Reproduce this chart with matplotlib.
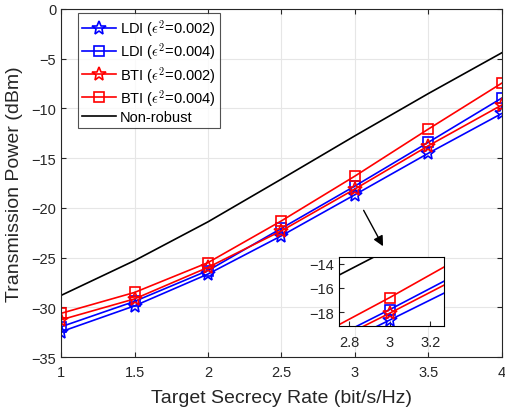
import numpy as np
import matplotlib.pyplot as plt

plt.rcParams['font.family'] = ['Liberation Sans', 'DejaVu Sans']
plt.rcParams['mathtext.fontset'] = 'cm'

# 数据
rate = [1, 1.5, 2, 2.5, 3, 3.5, 4]
ldi_002 = [-32.45, -29.85, -26.65, -22.8, -18.67, -14.5, -10.5]
ldi_004 = [-31.95, -29.4, -26.3, -22.05, -17.8, -13.4, -8.95]
bti_002 = [-31.25, -29.15, -25.98, -22.3, -18.1, -13.75, -9.65]
bti_004 = [-30.6, -28.5, -25.5, -21.3, -16.8, -12.07, -7.45]
non_robust = [-28.8, -25.3, -21.4, -17.1, -12.75, -8.5, -4.4]

labels = [r'LDI ($\epsilon^2$=0.002)', r'LDI ($\epsilon^2$=0.004)',
          r'BTI ($\epsilon^2$=0.002)', r'BTI ($\epsilon^2$=0.004)', 'Non-robust']


def draw(ax, ms_star=10, ms_sq=7):
    ax.plot(rate, ldi_002, color='blue', lw=1.2, marker='*', ms=ms_star, mfc='none', mew=1.2, label=labels[0])
    ax.plot(rate, ldi_004, color='blue', lw=1.2, marker='s', ms=ms_sq, mfc='none', mew=1.2, label=labels[1])
    ax.plot(rate, bti_002, color='red', lw=1.2, marker='*', ms=ms_star, mfc='none', mew=1.2, label=labels[2])
    ax.plot(rate, bti_004, color='red', lw=1.2, marker='s', ms=ms_sq, mfc='none', mew=1.2, label=labels[3])
    ax.plot(rate, non_robust, color='black', lw=1.2, label=labels[4])


fig = plt.figure(figsize=(5.06, 4.14), dpi=100)
ax = fig.add_axes([0.1206, 0.135, 0.8714, 0.841])
draw(ax)
ax.set_xlim(1, 4)
ax.set_ylim(-35, 0)
ax.set_xticks([1, 1.5, 2, 2.5, 3, 3.5, 4])
ax.set_xticklabels(['1', '1.5', '2', '2.5', '3', '3.5', '4'])
ax.set_yticks(range(-35, 1, 5))
ax.grid(True, color='#e6e6e6', lw=0.8)
ax.set_axisbelow(True)
ax.tick_params(direction='in', labelsize=10.5, colors='#262626', top=True, right=True)
ax.tick_params(axis='x', pad=6)
for s in ax.spines.values():
    s.set_color('#262626')
ax.set_xlabel('Target Secrecy Rate (bit/s/Hz)', fontsize=14, color='#262626', labelpad=7)
ax.set_ylabel('Transmission Power (dBm)', fontsize=14, color='#262626', labelpad=6)
leg = ax.legend(loc='upper left', fontsize=10.5, fancybox=False, edgecolor='#262626',
                borderpad=0.3, labelspacing=0.15, handlelength=2.3, handletextpad=0.3,
                borderaxespad=0, bbox_to_anchor=(0.038, 0.988))
leg.get_frame().set_linewidth(0.8)

ax.annotate('', xy=(3.2, -24.1), xytext=(3.05, -20.0),
            arrowprops=dict(arrowstyle='-|>', color='black', lw=1, mutation_scale=15))

# 局部放大
axin = fig.add_axes([0.670, 0.209, 0.208, 0.167])
draw(axin)
axin.set_xlim(2.75, 3.27)
axin.set_ylim(-19.2, -13.45)
axin.set_xticks([2.8, 3, 3.2])
axin.set_xticklabels(['2.8', '3', '3.2'])
axin.set_yticks([-18, -16, -14])
axin.tick_params(direction='in', labelsize=10.5, colors='#262626')
axin.tick_params(axis='x', pad=6)
axin.patch.set_facecolor('white')

fig.savefig('out.png', dpi=100)
